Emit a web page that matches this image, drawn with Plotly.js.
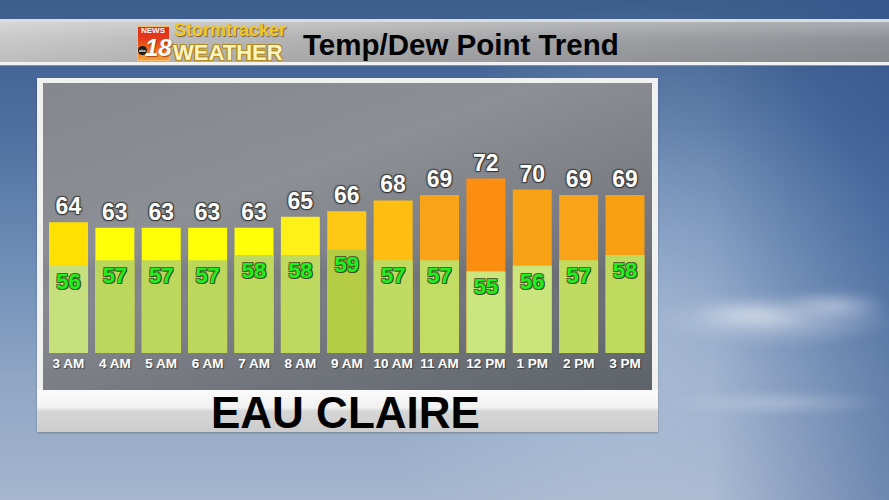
<!DOCTYPE html>
<html>
<head>
<meta charset="utf-8">
<script src="https://cdn.plot.ly/plotly-3.0.1.min.js"></script>
<style>
  html, body { margin: 0; padding: 0; width: 889px; height: 500px; overflow: hidden; }
  #stage { position: relative; width: 889px; height: 500px; overflow: hidden;
    background:
      linear-gradient(to left, rgba(45,80,140,0.45) 0%, rgba(45,80,140,0) 20%),
      radial-gradient(ellipse 260px 330px at 640px 330px, rgba(190,205,225,0.55), rgba(190,205,225,0) 100%),
      linear-gradient(180deg, #3d5d8b 0%, #4d6e9f 25%, #6b8ab5 50%, #8ea5c4 75%, #a5b6ce 100%);
  }
  .abs { position: absolute; }
  .cloud { position: absolute; border-radius: 50%; filter: blur(4px); }
  #chart { position: absolute; left: 0; top: 0; width: 889px; height: 500px; }
</style>
</head>
<body>
<div id="stage">
  <!-- clouds -->
  <div class="cloud" style="left:650px;top:292px;width:250px;height:55px;background:radial-gradient(ellipse at 50% 50%, rgba(220,228,240,0.55), rgba(220,228,240,0) 70%);"></div>
  <div class="cloud" style="left:690px;top:300px;width:120px;height:30px;background:radial-gradient(ellipse at 50% 50%, rgba(235,240,248,0.5), rgba(235,240,248,0) 70%);"></div>
  <div class="cloud" style="left:780px;top:290px;width:110px;height:30px;background:radial-gradient(ellipse at 50% 50%, rgba(235,240,248,0.45), rgba(235,240,248,0) 70%);"></div>
  <div class="cloud" style="left:660px;top:392px;width:230px;height:22px;background:radial-gradient(ellipse at 50% 50%, rgba(215,225,238,0.45), rgba(215,225,238,0) 70%);"></div>
  <!-- header band -->
  <div class="abs" style="left:0;top:19px;width:889px;height:3px;background:#d9dde2;"></div>
  <div class="abs" style="left:0;top:22px;width:889px;height:40px;background:
      linear-gradient(180deg, rgba(255,255,255,0.25) 0%, rgba(255,255,255,0) 45%, rgba(0,0,0,0.06) 100%),
      linear-gradient(90deg, #c9c9c9 0%, #bcbcbc 18%, #aaaaab 45%, #9c9ea1 70%, #8c9096 100%);"></div>
  <div class="abs" style="left:0;top:62px;width:889px;height:3px;background:#f2f2f2;"></div>
  <div class="abs" style="left:0;top:65px;width:889px;height:1px;background:#8a8f96;"></div>
  <!-- logo box -->
  <div class="abs" style="left:137px;top:26px;width:33px;height:35px;border:1px solid #f3c070;box-sizing:border-box;
       background:linear-gradient(180deg, #e22e1e 0%, #e23a1a 35%, #ee6a1c 65%, #f4a23a 100%);"></div>
  <div class="abs" style="left:138px;top:46px;width:9px;height:9px;border-radius:50%;background:#1a1a1a;"></div>
  <!-- panel -->
  <div class="abs" style="left:37px;top:78px;width:621px;height:354px;background:#f1f1f1;box-shadow:0 1px 2px rgba(0,0,0,0.25);"></div>
  <div class="abs" style="left:43px;top:83px;width:609px;height:307px;background:
      linear-gradient(180deg, rgba(0,0,0,0) 55%, rgba(0,0,0,0.06) 62%, rgba(0,0,0,0) 70%),
      linear-gradient(160deg, #84888e 0%, #8c9095 35%, #767a80 65%, #5e636a 100%);"></div>
  <div class="abs" style="left:37px;top:390px;width:621px;height:42px;background:
      linear-gradient(180deg, #fbfbfb 0%, #f1f1f1 42%, #d6d6d6 50%, #cdcdcd 100%);"></div>
  <div id="chart"></div>
</div>
<script>
// ---- data ----
const hours = ['3 AM','4 AM','5 AM','6 AM','7 AM','8 AM','9 AM','10 AM','11 AM','12 PM','1 PM','2 PM','3 PM'];
const temps = [64, 63, 63, 63, 63, 65, 66, 68, 69, 72, 70, 69, 69];
const dewPoints = [56, 57, 57, 57, 58, 58, 59, 57, 57, 55, 56, 57, 58];

// ---- styles ----
const tempColors = ['#ffe000','#ffff0a','#ffff0a','#ffff0a','#ffff0a','#fff01a','#ffc814','#ffbe12',
                    '#f9a318','#fb8d10','#f9a216','#f9a318','#f8a012'];
const dewColors = ['#c6e07e','#bdd65c','#bdd65c','#bdd65c','#bfd85e','#bfd85e','#b5cd44','#c1db62',
                   '#c2dc64','#cbe57f','#cbe57c','#c1db61','#c0da5e'];

const W = 889, H = 500;
const px = x => x / W;
const py = y => 1 - y / H;
const FONT = 'Liberation Sans, Arial, sans-serif';

const traces = [
  {
    type: 'bar', x: hours, y: temps, name: 'Temperature',
    marker: { color: tempColors },
    text: temps.map(String), textposition: 'outside', cliponaxis: false,
    textfont: { family: FONT, size: 23, color: '#ffffff', weight: 'bold',
                shadow: '1px 1px 1px #333, -1px -1px 1px #444, 1px -1px 1px #444, -1px 1px 1px #444' },
    hoverinfo: 'skip'
  },
  {
    type: 'bar', x: hours, y: dewPoints, name: 'Dew Point',
    marker: { color: dewColors },
    text: dewPoints.map(String), textposition: 'inside', insidetextanchor: 'end',
    constraintext: 'none',
    textfont: { family: FONT, size: 22, color: '#1df01d', weight: 'bold',
                shadow: '1px 1px 0 #3a4a1e, -1px -1px 0 #56652e, 1px -1px 0 #56652e, -1px 1px 0 #56652e' },
    hoverinfo: 'skip'
  }
];

const pxPerUnit = 5.45;
const layout = {
  width: W, height: H,
  margin: { l: 0, r: 0, t: 0, b: 0 },
  paper_bgcolor: 'rgba(0,0,0,0)', plot_bgcolor: 'rgba(0,0,0,0)',
  barmode: 'overlay', bargap: 0.16, showlegend: false,
  font: { family: FONT },
  xaxis: {
    domain: [px(45.3), px(648.2)], type: 'category',
    showgrid: false, zeroline: false, showline: false, ticks: '',
    tickfont: { family: FONT, size: 13.5, color: '#ffffff', weight: 'bold',
                shadow: '1px 1px 1px rgba(0,0,0,0.45)' },
    fixedrange: true
  },
  yaxis: {
    domain: [py(353), py(83)], range: [40, 40 + 270 / pxPerUnit],
    visible: false, fixedrange: true
  },
  annotations: [
    { text: 'Temp/Dew Point Trend', xref: 'paper', yref: 'paper', x: px(460.5), y: py(44.5), xanchor: 'center', yanchor: 'middle',
      showarrow: false, font: { family: FONT, size: 29.5, color: '#000000', weight: 'bold' } },
    { text: 'EAU CLAIRE', xref: 'paper', yref: 'paper', x: px(345), y: py(412), xanchor: 'center', yanchor: 'middle',
      showarrow: false, font: { family: FONT, size: 44, color: '#000000', weight: 'bold' } },
    { text: 'NEWS', xref: 'paper', yref: 'paper', x: px(153.5), y: py(30.5), xanchor: 'center', yanchor: 'middle',
      showarrow: false, font: { family: FONT, size: 8, color: '#ffffff', weight: 'bold' } },
    { text: '18', xref: 'paper', yref: 'paper', x: px(158), y: py(48), xanchor: 'center', yanchor: 'middle',
      showarrow: false, font: { family: FONT, size: 24, color: '#ffffff', weight: 'bold', style: 'italic',
      shadow: '1px 1px 1px rgba(120,30,0,0.6)' } },
    { text: 'abc', xref: 'paper', yref: 'paper', x: px(142.5), y: py(50.5), xanchor: 'center', yanchor: 'middle',
      showarrow: false, font: { family: FONT, size: 4, color: '#ffffff', weight: 'bold' } },
    { text: 'Stormtracker', xref: 'paper', yref: 'paper', x: px(172), y: py(30), xanchor: 'left', yanchor: 'middle',
      showarrow: false, font: { family: FONT, size: 18, color: '#f1c72c', weight: 'bold',
      shadow: '1px 1px 1px rgba(90,60,0,0.7)' } },
    { text: 'WEATHER', xref: 'paper', yref: 'paper', x: px(171), y: py(52.5), xanchor: 'left', yanchor: 'middle',
      showarrow: false, font: { family: FONT, size: 22, color: '#fff3c4', weight: 'bold',
      shadow: '1px 1px 0 #b08a20, -1px -1px 0 #b08a20, 1px -1px 0 #b08a20, -1px 1px 0 #b08a20' } }
  ]
};

Plotly.newPlot('chart', traces, layout, { staticPlot: true, displayModeBar: false });
</script>
</body>
</html>
